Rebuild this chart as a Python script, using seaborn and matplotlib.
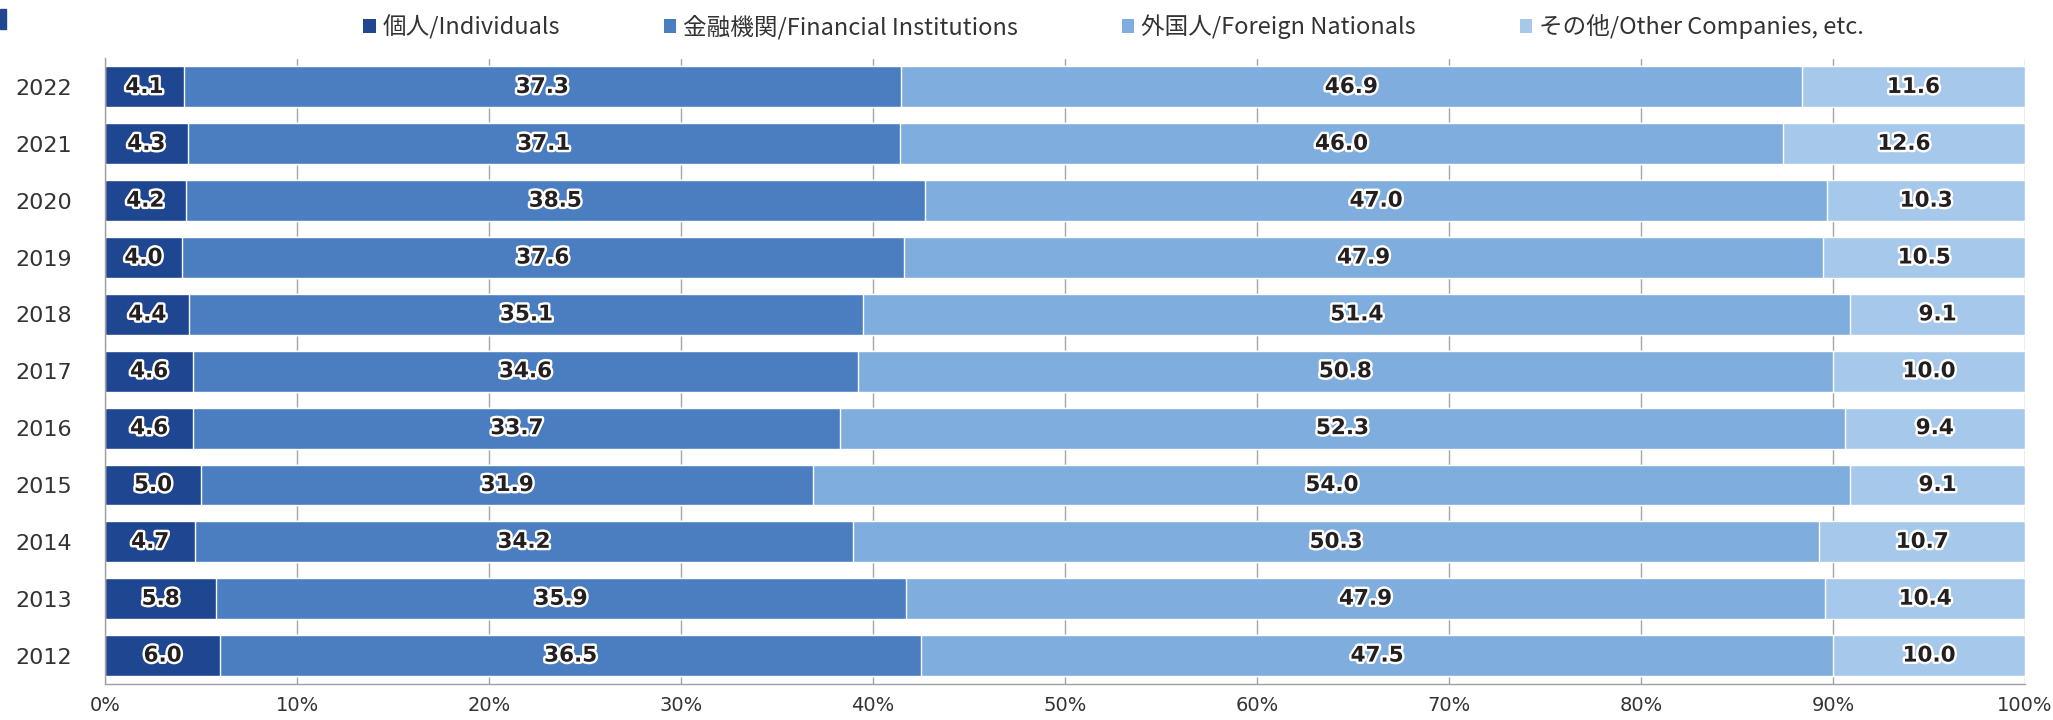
import numpy as np
import pandas as pd
import matplotlib
matplotlib.use("Agg")
import matplotlib.pyplot as plt
import matplotlib.patheffects as pe
from matplotlib.patches import Patch, Rectangle
import seaborn as sns

# data, top row first
years = ["2022", "2021", "2020", "2019", "2018", "2017", "2016", "2015", "2014", "2013", "2012"]
individuals = [4.1, 4.3, 4.2, 4.0, 4.4, 4.6, 4.6, 5.0, 4.7, 5.8, 6.0]
financial = [37.3, 37.1, 38.5, 37.6, 35.1, 34.6, 33.7, 31.9, 34.2, 35.9, 36.5]
foreign = [46.9, 46.0, 47.0, 47.9, 51.4, 50.8, 52.3, 54.0, 50.3, 47.9, 47.5]
other = [11.6, 12.6, 10.3, 10.5, 9.1, 10.0, 9.4, 9.1, 10.7, 10.4, 10.0]

series_names = ["個人/Individuals", "金融機関/Financial Institutions",
                "外国人/Foreign Nationals", "その他/Other Companies, etc."]
colors = ["#1F4690", "#4A7EC1", "#7EADDE", "#A6C9EB"]

df = pd.DataFrame({"year": years, "s0": individuals, "s1": financial,
                   "s2": foreign, "s3": other})
vals = df[["s0", "s1", "s2", "s3"]]
pct = vals.div(vals.sum(axis=1), axis=0) * 100
cum = pct.cumsum(axis=1)

sns.set_style("white")
plt.rcParams["font.family"] = ["DejaVu Sans", "Noto Sans CJK JP"]

fig = plt.figure(figsize=(20.53, 7.2), dpi=100)
ax = fig.add_axes([105 / 2053, 1 - 684 / 720, 1920 / 2053, 625.5 / 720])

# draw the cumulative bars from widest to narrowest so they stack
for i in range(3, -1, -1):
    sns.barplot(x=cum.iloc[:, i], y=df["year"], orient="h", color=colors[i],
                width=0.72, saturation=1, ax=ax, zorder=2)

# segment labels
for r in range(len(df)):
    start = 0
    for i in range(4):
        w = pct.iloc[r, i]
        ax.text(start + w / 2, r, f"{vals.iloc[r, i]:.1f}", ha="center", va="center",
                fontsize=15.5, fontweight="bold", color="#231F20", family="DejaVu Sans",
                zorder=5, path_effects=[pe.withStroke(linewidth=3.5, foreground="white")])
        start += w

ax.set_xlim(0, 100)
ax.set_ylim(len(df) - 0.5, -0.5)
ax.set_xticks(np.arange(0, 101, 10))
ax.set_xticklabels([f"{t}%" for t in range(0, 101, 10)], fontsize=14, color="#333333")
ax.set_yticks(range(len(df)))
ax.set_yticklabels(years, fontsize=16, color="#333333")
ax.set_yticks(np.arange(-0.5, len(df), 1), minor=True)
ax.tick_params(axis="y", which="major", length=0, pad=24)
ax.tick_params(axis="y", which="minor", length=5, color="#A0A0A0", width=1)
ax.tick_params(axis="x", which="major", length=4.5, color="#A0A0A0", width=1, pad=4)
ax.set_xlabel("")
ax.set_ylabel("")

ax.grid(axis="x", color="#A6A6A6", linewidth=1, zorder=0)
ax.set_axisbelow(True)
for side in ["top", "right"]:
    ax.spines[side].set_visible(False)
for side in ["left", "bottom"]:
    ax.spines[side].set_color("#A0A0A0")
    ax.spines[side].set_linewidth(1)

handles = [Patch(facecolor=c, edgecolor="none") for c in colors]
fig.legend(handles, series_names, loc="center", bbox_to_anchor=(0.5425, 0.963),
           ncol=4, frameon=False, handlelength=0.52, handleheight=0.52,
           handletextpad=0.3, columnspacing=4.4, labelcolor="#333333",
           prop={"family": ["Noto Sans CJK JP", "DejaVu Sans"], "size": 17})

# small dark tab in the top-left corner
fig.patches.append(Rectangle((0, 1 - 29 / 720), 6 / 2053, 20 / 720,
                             transform=fig.transFigure, color="#1F4690"))

fig.savefig("out.png", dpi=100)
